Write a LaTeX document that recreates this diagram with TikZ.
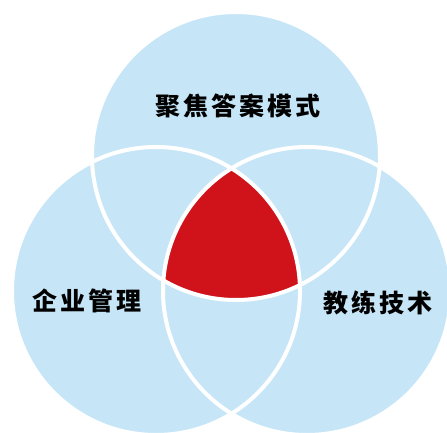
\documentclass[tikz,border=0pt]{standalone}
\usepackage{fontspec}
\usepackage{tikz}
\usetikzlibrary{positioning,calc}
\newfontfamily\cjk{Noto Sans CJK SC}[UprightFont={* Black},LetterSpace=12]
\definecolor{setblue}{HTML}{C6E6F8}
\definecolor{corered}{HTML}{D0121B}
\tikzstyle{setfill} = [fill=setblue]
\tikzstyle{setline} = [draw=white, line width=4pt]
\tikzstyle{label} = [font=\cjk\fontsize{25}{25}\selectfont, text=black, inner sep=0pt]

\begin{document}
\begin{tikzpicture}[x=1pt, y=1pt]
	\useasboundingbox (0,0) rectangle (447,432);
	\coordinate (ctop) at (236,276);
	\coordinate (cleft) at (156,141);
	\coordinate (cright) at (307,141);
	% circles
	\fill [setfill] (ctop) circle (144pt);
	\fill [setfill] (cleft) circle (144pt);
	\fill [setfill] (cright) circle (144pt);
	% common part
	\begin{scope}
		\clip (ctop) circle (144pt);
		\clip (cleft) circle (144pt);
		\fill [corered] (cright) circle (144pt);
	\end{scope}
	\draw [setline] (ctop) circle (144pt);
	\draw [setline] (cleft) circle (144pt);
	\draw [setline] (cright) circle (144pt);
	% labels
	\node (focus) [label] at (238,326) {聚焦答案模式};
	\node (manage) [label] at (87,131) {企业管理};
	\node (coach) [label] at (378,129) {教练技术};
\end{tikzpicture}
\end{document}
